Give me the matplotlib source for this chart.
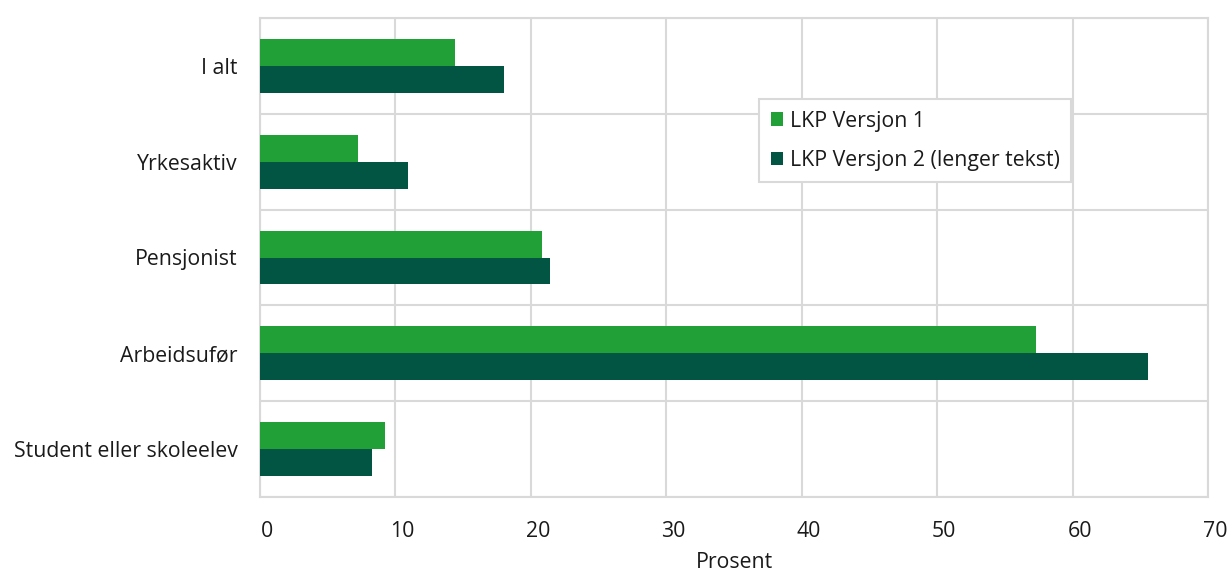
import matplotlib
matplotlib.use("Agg")
import matplotlib.pyplot as plt
import matplotlib.transforms as mtransforms
from matplotlib.patches import Patch
import numpy as np

categories = ["I alt", "Yrkesaktiv", "Pensjonist", "Arbeidsufør", "Student eller skoleelev"]
versjon1 = [14.4, 7.2, 20.8, 57.3, 9.2]
versjon2 = [18.0, 10.9, 21.4, 65.6, 8.3]
series_names = ["LKP Versjon 1", "LKP Versjon 2 (lenger tekst)"]
xticks = [0, 10, 20, 30, 40, 50, 60, 70]

c1 = "#21a038"
c2 = "#025443"
grid = "#d9d9d9"
txt = "#1a1a1a"
FS = 15.3

plt.rcParams['font.family'] = ['Open Sans', 'DejaVu Sans']

W, H = 1232, 574
fig = plt.figure(figsize=(W / 100, H / 100), dpi=100)
ax = fig.add_axes([260 / W, 1 - 497 / H, (1208 - 260) / W, (497 - 18) / H])

y = np.arange(len(categories))
h = 27 / 96
ax.barh(y - h / 2, versjon1, height=h, color=c1, zorder=3)
ax.barh(y + h / 2, versjon2, height=h, color=c2, zorder=3)

ax.set_xlim(0, 70)
ax.set_ylim(len(categories) - 0.5, -0.5)

ax.set_xticks(xticks)
ax.set_xticklabels([str(t) for t in xticks])
ax.set_yticks(y)
ax.set_yticklabels(categories)
ax.set_yticks(np.arange(len(categories) + 1) - 0.5, minor=True)
ax.tick_params(axis='both', which='both', length=0)
ax.tick_params(axis='x', pad=17, labelsize=FS, labelcolor=txt)
ax.tick_params(axis='y', pad=16, labelsize=FS, labelcolor=txt)

offset = mtransforms.ScaledTranslation(7 / 100, 0, fig.dpi_scale_trans)
for lab in ax.get_xticklabels():
    lab.set_transform(lab.get_transform() + offset)

ax.grid(True, axis='x', which='major', color=grid, linewidth=1.5, zorder=0)
ax.grid(True, axis='y', which='minor', color=grid, linewidth=1.5, zorder=0)
ax.grid(False, axis='y', which='major')
for s in ax.spines.values():
    s.set_color(grid)
    s.set_linewidth(1.5)

fig.text(734 / W, 1 - 563 / H, "Prosent", ha='center', va='center', fontsize=FS, color=txt)

handles = [Patch(facecolor=c1, edgecolor='none'), Patch(facecolor=c2, edgecolor='none')]
leg = fig.legend(handles, series_names, loc='upper left',
                 bbox_to_anchor=(759 / W, 1 - 99 / H), bbox_transform=fig.transFigure,
                 fontsize=FS, frameon=True, fancybox=False, borderaxespad=0,
                 handlelength=0.6, handleheight=0.6, handletextpad=0.3,
                 labelspacing=0.85, borderpad=0.55, labelcolor=txt)
leg.get_frame().set_edgecolor(grid)
leg.get_frame().set_linewidth(1.5)
leg.get_frame().set_facecolor('white')
leg.get_frame().set_alpha(1)

fig.savefig("out.png", dpi=100)
